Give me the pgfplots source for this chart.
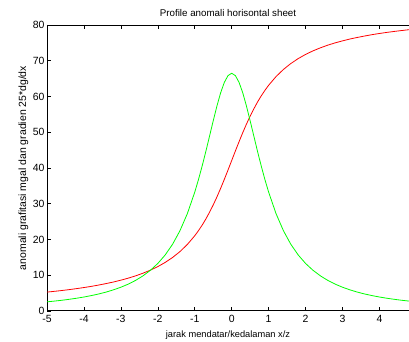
\documentclass[border=0pt]{standalone}
\usepackage{pgfplots}
\pgfplotsset{compat=1.18}
\usepackage{fontspec}
\setmainfont{Liberation Sans}
\begin{document}
\begin{tikzpicture}
\begin{axis}[
  name=ax,
  scale only axis,
  width=362bp, height=286bp,
  xmin=-5, xmax=4.8, ymin=0, ymax=80,
  axis x line=box, axis y line*=left,
  xtick={-5,-4,-3,-2,-1,0,1,2,3,4},
  ytick={0,10,20,30,40,50,60,70,80},
  tick align=inside,
  major tick length=4bp,
  axis line style={line width=1pt},
  tick style={black, line width=0.6pt},
  /pgf/number format/assume math mode=true,
  ticklabel style={font=\fontsize{10.5}{12}\selectfont},
  xticklabel style={yshift=-1bp},
  yticklabel style={xshift=1bp},
  title={Profile anomali horisontal sheet},
  title style={font=\fontsize{9.8}{11}\selectfont, at={(axis description cs:0.5,1)}, anchor=center, yshift=6.5bp},
  xlabel={jarak mendatar/kedalaman x/z},
  xlabel style={font=\fontsize{9.3}{11}\selectfont, at={(axis description cs:0.5,0)}, anchor=center, yshift=-24bp},
  ylabel={anomali grafitasi mgal dan gradien 25*dg/dx},
  ylabel style={font=\fontsize{10.5}{12}\selectfont, at={(axis description cs:-0.065,0.5)}, anchor=center, rotate=0},
]
\addplot[red, line width=0.8pt] coordinates {
(-5,5.29) (-4.8,5.50) (-4.6,5.73) (-4.4,5.98) (-4.2,6.26) (-4,6.56) (-3.8,6.89) (-3.6,7.26) (-3.4,7.67) (-3.2,8.11)
(-3,8.62) (-2.8,9.19) (-2.6,9.83) (-2.4,10.58) (-2.2,11.43) (-2,12.42) (-1.8,13.59) (-1.6,14.97) (-1.4,16.62) (-1.2,18.62)
(-1,21.05) (-0.9,22.46) (-0.8,24.01) (-0.7,25.73) (-0.6,27.62) (-0.5,29.67) (-0.4,31.90) (-0.3,34.29) (-0.2,36.80) (-0.1,39.42)
(0,42.09) (0.1,44.76) (0.2,47.38) (0.3,49.90) (0.4,52.29) (0.5,54.52) (0.6,56.57) (0.7,58.46) (0.8,60.18) (0.9,61.73)
(1,63.14) (1.2,65.57) (1.4,67.56) (1.6,69.22) (1.8,70.60) (2,71.77) (2.2,72.76) (2.4,73.61) (2.6,74.36) (2.8,75.00)
(3,75.56) (3.2,76.08) (3.4,76.52) (3.6,76.92) (3.8,77.30) (4,77.63) (4.2,77.93) (4.4,78.20) (4.6,78.45) (4.8,78.69)
};
\addplot[green, line width=0.8pt] coordinates {
(-5,2.56) (-4.8,2.77) (-4.6,3.00) (-4.4,3.27) (-4.2,3.57) (-4,3.91) (-3.8,4.31) (-3.6,4.76) (-3.4,5.29) (-3.2,5.92)
(-3,6.65) (-2.8,7.52) (-2.6,8.57) (-2.4,9.84) (-2.2,11.39) (-2,13.30) (-1.8,15.68) (-1.6,18.68) (-1.4,22.47) (-1.2,27.25)
(-1,33.25) (-0.9,36.74) (-0.8,40.55) (-0.7,44.63) (-0.6,48.90) (-0.5,53.20) (-0.4,57.33) (-0.3,61.01) (-0.2,63.94) (-0.1,65.84)
(0,66.50) (0.1,65.84) (0.2,63.94) (0.3,61.01) (0.4,57.33) (0.5,53.20) (0.6,48.90) (0.7,44.63) (0.8,40.55) (0.9,36.74)
(1,33.25) (1.2,27.25) (1.4,22.47) (1.6,18.68) (1.8,15.68) (2,13.30) (2.2,11.39) (2.4,9.84) (2.6,8.57) (2.8,7.52)
(3,6.65) (3.2,5.92) (3.4,5.29) (3.6,4.76) (3.8,4.31) (4,3.91) (4.2,3.57) (4.4,3.27) (4.6,3.00) (4.8,2.77)
};
\end{axis}
\pgfresetboundingbox
\path ([xshift=-47bp,yshift=-31bp]ax.south west) rectangle ([yshift=25bp]ax.north east);
\end{tikzpicture}
\end{document}
